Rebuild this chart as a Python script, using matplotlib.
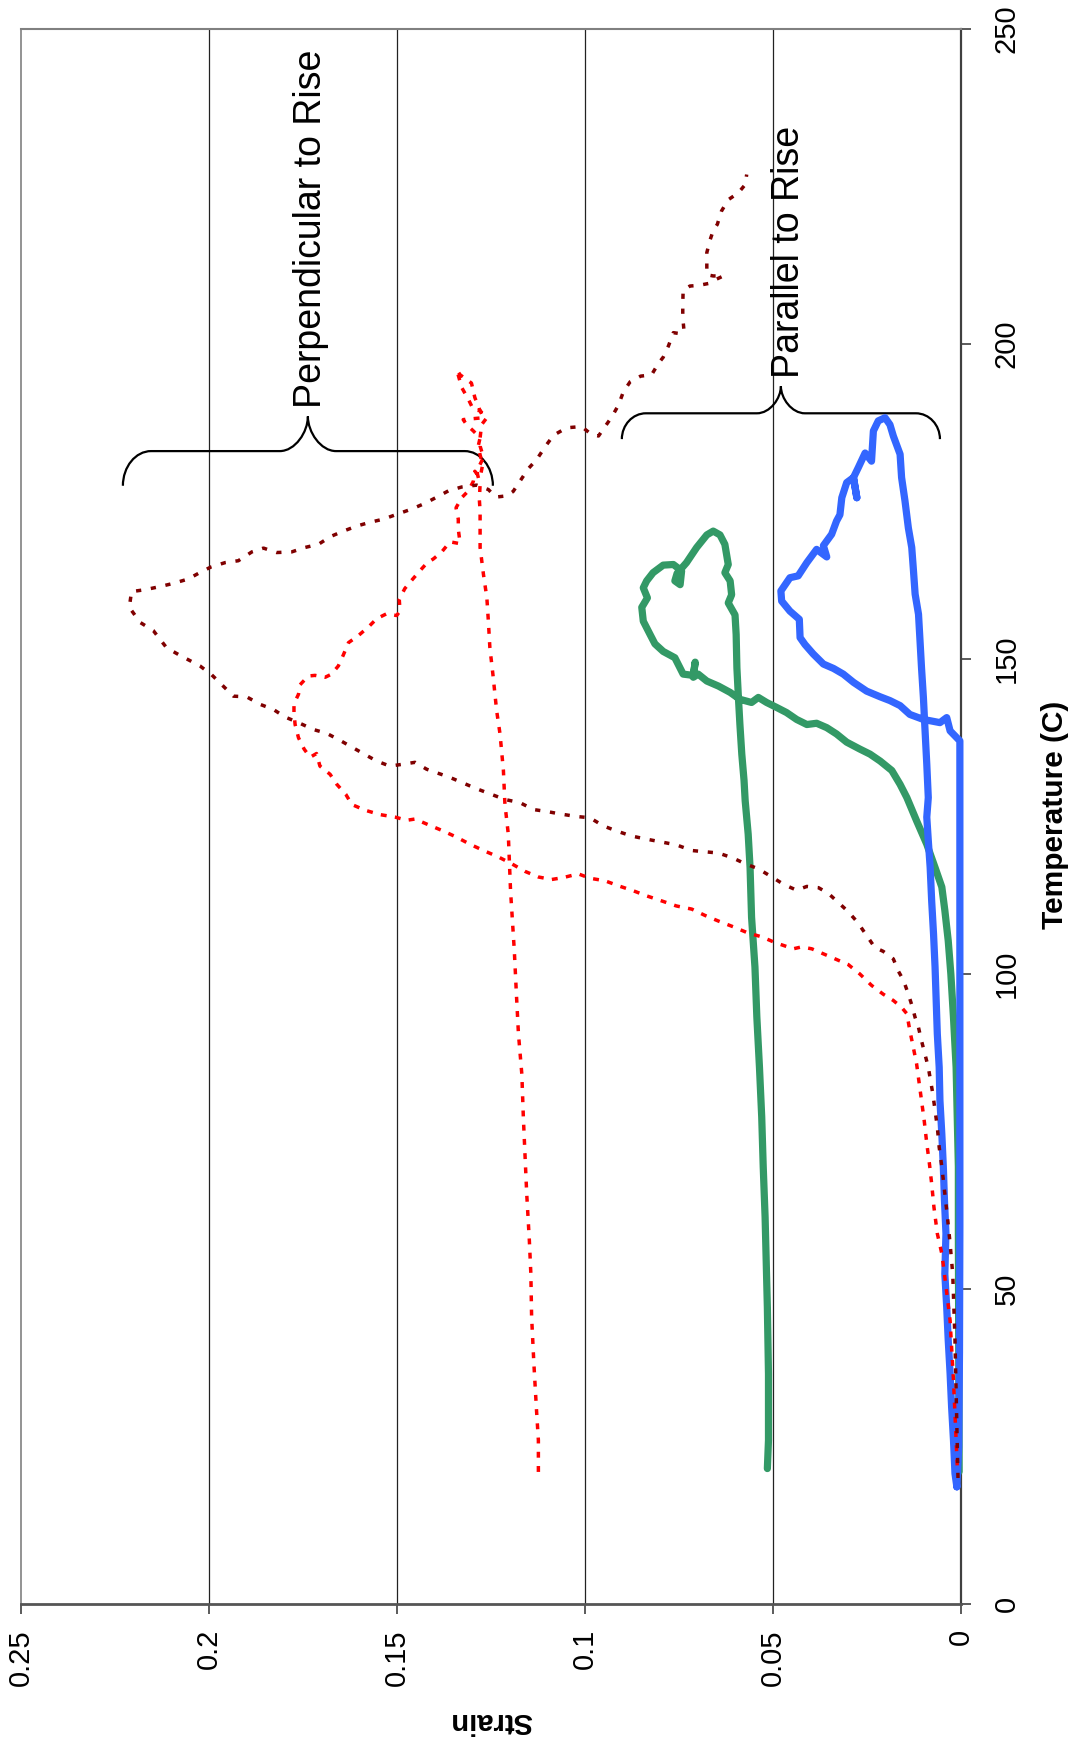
import matplotlib
matplotlib.use("Agg")
import matplotlib.pyplot as plt
from matplotlib.path import Path
from matplotlib.patches import PathPatch

plt.rcParams['font.family'] = ['Liberation Sans', 'DejaVu Sans']

# Perpendicular to rise, run 1 (dark red dotted)
perp1_temp = [20, 33.9, 41.9, 47.1, 52.4, 57.2, 61.4, 65.1, 69.4, 72.5, 75.7, 78.3, 81, 83.1, 85.2,
              87.8, 89.4, 91.5, 93.1, 95.1, 96.8, 99, 100.5, 102.4, 103.6, 104.2, 106.1, 108.2, 109.9,
              111.5, 112.8, 113.7, 113.9, 113.3, 114.2, 115.4, 116.7, 117.5, 118.4, 119.2, 119.4, 119.6,
              120.5, 120.9, 121.4, 121.9, 122.7, 123.5, 124.8, 125, 125.4, 125.8, 126.1, 127.2, 127.7,
              129.4, 131.2, 132.5, 133.6, 133.3, 133, 133.8, 135, 137.1, 138.2, 138.8, 139.9, 140.8, 142,
              142.8, 144, 144.1, 147.5, 148.9, 150.7, 151.8, 154.5, 155.8, 158.2, 160.7, 161, 161.5, 162,
              162.7, 163.6, 164.6, 165.3, 165.6, 167, 167.6, 166.9, 167, 167.7, 168.2, 169.4, 170.2, 171.1,
              171.7, 172.2, 173, 173.8, 174.7, 175.7, 176.7, 177.3, 177.6, 176.9, 175.7, 175.9, 176.6,
              180.2, 181.7, 183.7, 185.5, 186.7, 186.9, 185.6, 185.4, 186.7, 188.4, 190.3, 192.4, 194,
              194.9, 195.1, 196.9, 197.9, 199.7, 201.8, 201.6, 202.3, 204.2, 206.3, 208.5, 209.2, 209.3,
              209.6, 210.3, 210.8, 210.8, 211, 212.1, 214.5, 216.4, 218, 219, 221.1, 222.9, 224, 225.3, 226.9]
perp1_strain = [0.0008, 0.0013, 0.0016, 0.0019, 0.0022, 0.0029, 0.0036, 0.0043, 0.0051, 0.0058, 0.0063,
                0.0069, 0.0075, 0.0081, 0.0087, 0.0098, 0.0105, 0.0113, 0.0122, 0.0131, 0.014, 0.0153,
                0.0167, 0.018, 0.0207, 0.0229, 0.0251, 0.0275, 0.03, 0.0329, 0.0353, 0.0379, 0.041, 0.0437,
                0.0471, 0.0503, 0.0539, 0.0574, 0.0606, 0.0645, 0.0681, 0.0716, 0.0757, 0.0792, 0.0836,
                0.0876, 0.0916, 0.0951, 0.0987, 0.1022, 0.1066, 0.1102, 0.1137, 0.1173, 0.1213, 0.1288,
                0.1359, 0.1421, 0.1452, 0.1484, 0.1519, 0.1554, 0.159, 0.1652, 0.1687, 0.1722, 0.1762,
                0.1798, 0.1829, 0.1864, 0.19, 0.1935, 0.1993, 0.2024, 0.2081, 0.2113, 0.2148, 0.2183, 0.2212,
                0.2206, 0.217, 0.213, 0.2095, 0.2055, 0.2028, 0.1995, 0.1957, 0.1922, 0.1886, 0.1855, 0.182,
                0.178, 0.1745, 0.1709, 0.1678, 0.1647, 0.1607, 0.1572, 0.1536, 0.1499, 0.1461, 0.1426,
                0.1394, 0.1363, 0.1328, 0.1288, 0.1257, 0.1237, 0.1208, 0.1191, 0.1151, 0.1128, 0.1106,
                0.1084, 0.1049, 0.1009, 0.0982, 0.0964, 0.0949, 0.0929, 0.0911, 0.0898, 0.088, 0.0852,
                0.0823, 0.0805, 0.0792, 0.0778, 0.0765, 0.0743, 0.0737, 0.074, 0.074, 0.0739, 0.0721,
                0.0698, 0.0672, 0.065, 0.0632, 0.0659, 0.0676, 0.0676, 0.0676, 0.0668, 0.0659, 0.0648,
                0.0637, 0.0619, 0.0592, 0.0574, 0.057]

# Perpendicular to rise, run 2 (red dotted)
perp2_temp = [22, 35.5, 45, 51.9, 55.6, 58.8, 63, 66.7, 69.9, 73.1, 76.8, 79.9, 82.6, 85.7, 88.4, 91,
              93.7, 94.7, 95.8, 96.8, 98.2, 100, 101.5, 102.4, 103.3, 104, 104.3, 104, 105, 105.9, 106.5,
              107.5, 108.4, 109.3, 110.3, 110.8, 111.6, 112.4, 113.2, 114, 114.8, 115.2, 115.9, 115.3,
              115, 115.4, 116.3, 117.5, 118.6, 119.6, 120.6, 121.7, 122.7, 123.7, 124.6, 124.4, 124.9,
              125.3, 126, 126.9, 128.5, 130.1, 131.7, 133, 135, 134.4, 135.7, 137.5, 139.6, 141.5, 142.9,
              144.4, 145.9, 147.3, 147.4, 147.1, 147.6, 148.9, 150.6, 152.6, 153.7, 155.2, 156.4, 157.2,
              156.9, 157.6, 159.5, 161.2, 162.7, 164, 165.2, 165.9, 167, 168.6, 168.3, 170.6, 172.2, 174,
              175.6, 176.7, 178.2, 179.8, 178.8, 180.9, 182.4, 183.8, 185.1, 186.2, 187.2, 188, 188.3,
              189.4, 189.6, 191.2, 193.1, 195.9, 195.1, 193.8, 191.5, 189.4, 188.3, 187.2, 185.1, 183.8,
              182, 179.8, 177.7, 175.3, 173.5, 171.9, 167.7, 163.4, 159.7, 156, 151.8, 147.6, 141.8,
              138.1, 132.3, 127, 122.2, 113.2, 103.7, 96.3, 90.5, 84.1, 77.3, 72, 65.1, 57.7, 52.4, 45.6,
              38.2, 30.8, 26, 19.7]
perp2_strain = [0.001, 0.002, 0.0029, 0.0043, 0.0051, 0.0063, 0.0072, 0.0078, 0.0084, 0.0091, 0.0098,
                0.0105, 0.0111, 0.0118, 0.0127, 0.0136, 0.0144, 0.0158, 0.018, 0.0207, 0.0238, 0.0269,
                0.03, 0.0335, 0.037, 0.0397, 0.0424, 0.0446, 0.0495, 0.053, 0.0566, 0.0606, 0.0645,
                0.0681, 0.0716, 0.0757, 0.0796, 0.0836, 0.0871, 0.0911, 0.0947, 0.0987, 0.1018, 0.1058,
                0.1089, 0.1124, 0.116, 0.1195, 0.1231, 0.127, 0.1306, 0.1341, 0.1377, 0.1417, 0.1452,
                0.1474, 0.1505, 0.1545, 0.1585, 0.162, 0.1636, 0.166, 0.1678, 0.1705, 0.1714, 0.1731,
                0.1747, 0.1762, 0.1771, 0.1774, 0.1774, 0.1762, 0.1758, 0.1736, 0.1718, 0.1691, 0.1674,
                0.1656, 0.1643, 0.1629, 0.1603, 0.1574, 0.1554, 0.1527, 0.1501, 0.1492, 0.1494, 0.1479,
                0.1458, 0.1439, 0.1421, 0.1403, 0.1381, 0.1359, 0.1332, 0.1337, 0.1337, 0.1343, 0.1328,
                0.131, 0.1297, 0.1293, 0.1279, 0.1272, 0.1279, 0.1284, 0.1279, 0.1297, 0.1315, 0.1324,
                0.127, 0.1279, 0.1297, 0.131, 0.1328, 0.1341, 0.1332, 0.1302, 0.1293, 0.1279, 0.1261,
                0.1275, 0.1279, 0.1279, 0.127, 0.1288, 0.1279, 0.1281, 0.1279, 0.1279, 0.1279, 0.127,
                0.1261, 0.1257, 0.1253, 0.1245, 0.1235, 0.1226, 0.1217, 0.1213, 0.1204, 0.1198, 0.1188,
                0.1182, 0.1177, 0.1168, 0.1164, 0.116, 0.1155, 0.1148, 0.1144, 0.1142, 0.1136, 0.1129,
                0.1124, 0.1124]

# Parallel to rise, run 1 (green)
par1_temp = [21, 40, 58.8, 69.4, 77.3, 85.2, 93.1, 100, 105.3, 110.1, 113.8, 116.9, 120.6, 124.3, 128,
             130.1, 132.3, 133.8, 134.9, 135.7, 136.8, 138.1, 139.1, 139.8, 139.6, 140.4, 141.5, 142.3,
             143.1, 143.9, 143.1, 143.6, 144.7, 145.7, 146.5, 147.6, 147.1, 149.5, 147.4, 147.6, 150.2,
             151.2, 152.4, 153.9, 156, 158.2, 159.7, 161.3, 162.4, 163.7, 164.9, 165, 164, 161.8, 162.4,
             163.6, 165.3, 167.7, 169.7, 170.3, 169.7, 168.2, 165, 163.7, 162.4, 160.2, 158.9, 157,
             153.9, 148.6, 143.9, 139.6, 134.9, 130.7, 127.5, 122.2, 116.9, 109, 101.1, 93.2, 85.2, 77.3,
             69.4, 61.4, 47.1, 36.5, 26, 21.5]
par1_strain = [0.0005, 0.0006, 0.0007, 0.0007, 0.001, 0.0013, 0.002, 0.0027, 0.0034, 0.0043, 0.0051,
               0.0069, 0.0091, 0.0118, 0.0144, 0.0162, 0.0184, 0.0215, 0.0242, 0.0269, 0.0304, 0.0331,
               0.0357, 0.0384, 0.041, 0.0437, 0.0464, 0.049, 0.0517, 0.0539, 0.0557, 0.0588, 0.0614,
               0.0645, 0.0676, 0.0699, 0.0712, 0.0707, 0.0712, 0.0739, 0.0761, 0.0792, 0.0814, 0.0827,
               0.0845, 0.0849, 0.0834, 0.0845, 0.0836, 0.0819, 0.0792, 0.0765, 0.0743, 0.0747, 0.0761,
               0.0755, 0.073, 0.0703, 0.0676, 0.0659, 0.0641, 0.0628, 0.0619, 0.0628, 0.0614, 0.061,
               0.0619, 0.0601, 0.0598, 0.0596, 0.0592, 0.0588, 0.0583, 0.0577, 0.0574, 0.0566, 0.0561,
               0.0557, 0.0548, 0.0543, 0.0536, 0.053, 0.0526, 0.0521, 0.0515, 0.0512, 0.0512, 0.0515]

# Parallel to rise, run 2 (blue)
par2_temp = [18.6, 25, 40, 60, 80, 100, 120, 137, 138.6, 140.7, 139.9, 140.2, 140.4, 141.2, 142.6, 143.4,
             144, 144.9, 146.3, 147.6, 148.5, 149.2, 150.8, 152.3, 153.4, 156.3, 157.6, 159.2, 160.8,
             162.9, 163.2, 165.3, 167.4, 166.2, 168, 169.8, 171.9, 172.9, 175.6, 178, 178.8, 175.6,
             178.8, 180.4, 182.7, 181.4, 186.2, 187.8, 188.3, 187.2, 185.4, 182.5, 178.8, 175.1, 170.8,
             167.7, 164.5, 160.3, 157.1, 152.9, 148.6, 143.9, 139.1, 133.3, 128, 124.9, 121.2, 116.9,
             111.6, 106.3, 101.1, 95.8, 90.5, 85.2, 79.9, 74.6, 69.4, 64.1, 58.8, 52.4, 47.1, 41.9, 36.6,
             31.3, 26, 20.7, 18.6]
par2_strain = [0.0011, 0.0006, 0.0004, 0.0003, 0.0003, 0.0003, 0.0003, 0.0003, 0.0029, 0.0038, 0.0056,
               0.0082, 0.01, 0.0136, 0.0162, 0.0189, 0.0215, 0.0251, 0.0286, 0.0313, 0.0339, 0.0366,
               0.0393, 0.0415, 0.0428, 0.043, 0.0455, 0.0477, 0.0479, 0.0455, 0.0433, 0.041, 0.0384,
               0.0357, 0.0366, 0.0344, 0.0331, 0.0322, 0.0317, 0.0304, 0.0286, 0.0277, 0.0286, 0.0273,
               0.0255, 0.0238, 0.0233, 0.022, 0.0202, 0.0189, 0.018, 0.0162, 0.0158, 0.0149, 0.014,
               0.0131, 0.0127, 0.0122, 0.0113, 0.0109, 0.0105, 0.01, 0.0096, 0.0091, 0.0087, 0.0091,
               0.0087, 0.0082, 0.0078, 0.0073, 0.0069, 0.0066, 0.0063, 0.0058, 0.0056, 0.0051, 0.0047,
               0.0044, 0.004, 0.0043, 0.0038, 0.0034, 0.0029, 0.0025, 0.002, 0.0016, 0.0011]

strain_ticks = [0, 0.05, 0.1, 0.15, 0.2, 0.25]
strain_labels = ['0', '0.05', '0.1', '0.15', '0.2', '0.25']
temp_ticks = [0, 50, 100, 150, 200, 250]


def brace(ax, x_left, x_right, t_base, t_tip, t_end, r):
    # curly brace lying along the (inverted) strain axis, cusp pointing to higher temperature
    k = 0.55
    xc = (x_left + x_right) / 2
    verts = [
        (x_left, t_end),
        (x_left, t_end + k * (t_base - t_end)), (x_left - r * (1 - k), t_base), (x_left - r, t_base),
        (xc + r, t_base),
        (xc + r * (1 - k), t_base), (xc, t_base + k * (t_tip - t_base)), (xc, t_tip),
        (xc, t_base + k * (t_tip - t_base)), (xc - r * (1 - k), t_base), (xc - r, t_base),
        (x_right + r, t_base),
        (x_right + r * (1 - k), t_base), (x_right, t_end + k * (t_base - t_end)), (x_right, t_end),
    ]
    codes = [Path.MOVETO,
             Path.CURVE4, Path.CURVE4, Path.CURVE4,
             Path.LINETO,
             Path.CURVE4, Path.CURVE4, Path.CURVE4,
             Path.CURVE4, Path.CURVE4, Path.CURVE4,
             Path.LINETO,
             Path.CURVE4, Path.CURVE4, Path.CURVE4]
    ax.add_patch(PathPatch(Path(verts, codes), fill=False, lw=1.6, edgecolor='black',
                           clip_on=False))


fig = plt.figure(figsize=(10.78, 17.46), dpi=100)
ax = fig.add_axes([21 / 1078, 1 - 1604 / 1746, 940 / 1078, 1575 / 1746])

ax.set_xlim(0.25, 0)
ax.set_ylim(0, 250)

for s in [0.05, 0.1, 0.15, 0.2]:
    ax.axvline(s, color='#222222', lw=0.9, zorder=1)

ax.plot(par1_strain, par1_temp, color='#339966', lw=5.2, solid_joinstyle='round',
        solid_capstyle='round', clip_on=False, zorder=3)
ax.plot(par2_strain, par2_temp, color='#3366FF', lw=5.2, solid_joinstyle='round',
        solid_capstyle='round', clip_on=False, zorder=4)
ax.plot(perp2_strain, perp2_temp, color='#FF0000', lw=2.5, linestyle=(0, (1.7, 2.4)),
        clip_on=False, zorder=5)
ax.plot(perp1_strain, perp1_temp, color='#800000', lw=2.5, linestyle=(0, (1.5, 2.8)),
        clip_on=False, zorder=6)

brace(ax, 0.2229, 0.1245, 183.0, 188.5, 177.5, 0.0075)
brace(ax, 0.0902, 0.0056, 189.0, 193.3, 184.9, 0.0064)

ax.text(0.1729, 189.8, 'Perpendicular to Rise', rotation=90, ha='center', va='bottom',
        fontsize=27)
ax.text(0.0458, 194.6, 'Parallel to Rise', rotation=90, ha='center', va='bottom',
        fontsize=27)

ax.set_xticks(strain_ticks)
ax.set_xticklabels(strain_labels, rotation=90, fontsize=21)
ax.yaxis.tick_right()
ax.set_yticks(temp_ticks)
ax.set_yticklabels([str(t) for t in temp_ticks], rotation=90, va='center', fontsize=21)
ax.tick_params(axis='x', direction='out', length=7, width=1.2, color='#404040', pad=11)
ax.tick_params(axis='y', direction='out', length=7, width=1.2, color='#404040', pad=16)

ax.spines['top'].set_color('#808080')
ax.spines['top'].set_linewidth(1.5)
ax.spines['left'].set_color('#808080')
ax.spines['left'].set_linewidth(1.2)
ax.spines['right'].set_color('#404040')
ax.spines['right'].set_linewidth(1.6)
ax.spines['bottom'].set_color('#555555')
ax.spines['bottom'].set_linewidth(2.0)

fig.text(491 / 1078, 1 - 1721 / 1746, 'Strain', rotation=180, ha='center', va='center',
         fontsize=21, fontweight='bold')
fig.text(1055 / 1078, 1 - 815 / 1746, 'Temperature (C)', rotation=90, ha='center', va='center',
         fontsize=21.5, fontweight='bold')

fig.savefig('out.png', dpi=100)
